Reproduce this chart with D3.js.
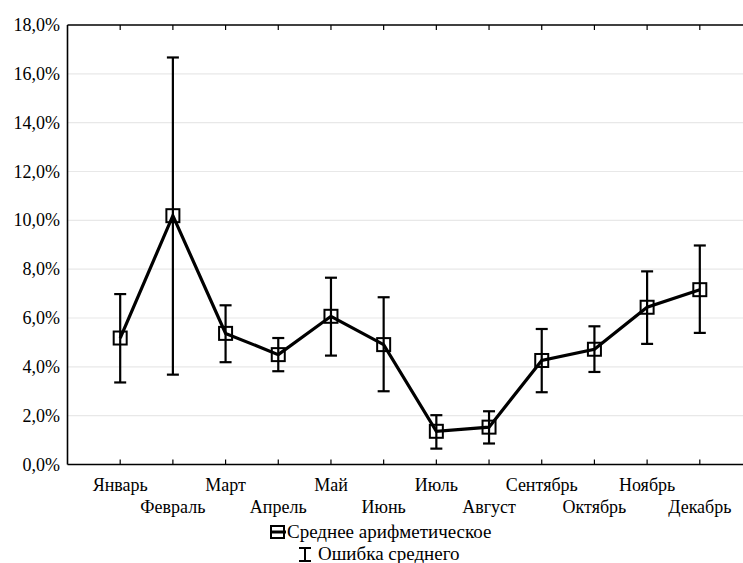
<!DOCTYPE html>
<html><head><meta charset="utf-8">
<script src="https://cdn.jsdelivr.net/npm/d3@7"></script>
<style>body{margin:0;background:#fff}svg{display:block}</style>
</head><body><svg id="c" width="743" height="563"></svg>
<script>
const months = ["Январь","Февраль","Март","Апрель","Май","Июнь","Июль","Август","Сентябрь","Октябрь","Ноябрь","Декабрь"];
const means = [5.18, 10.19, 5.37, 4.50, 6.07, 4.91, 1.36, 1.53, 4.26, 4.72, 6.44, 7.16];
const lower = [3.36, 3.68, 4.19, 3.82, 4.46, 3.00, 0.65, 0.86, 2.96, 3.79, 4.94, 5.39];
const upper = [6.98, 16.67, 6.52, 5.18, 7.65, 6.85, 2.02, 2.18, 5.55, 5.66, 7.91, 8.97];
const yTicks = [0,2,4,6,8,10,12,14,16,18];
const legendLabels = ["Среднее арифметическое","Ошибка среднего"];

const FONT = "'Liberation Serif', 'Times New Roman', 'DejaVu Serif', serif";
const svg = d3.select("#c").attr("font-family", FONT);
const L = 67.5, T = 25, B = 464.5, R = 752.5;
const x = d3.scalePoint().domain(["", ...months, " "]).range([L, R]);
const y = d3.scaleLinear().domain([0,18]).range([B, T]);

// gridlines
svg.append("g").selectAll("line").data(yTicks.filter(d=>d>0 && d<18)).join("line")
  .attr("x1", L).attr("x2", 743).attr("y1", d=>y(d)).attr("y2", d=>y(d))
  .attr("stroke", "#e8e8e8").attr("stroke-width", 1.2);

// y labels
svg.append("g").selectAll("text").data(yTicks).join("text")
  .attr("x", 60).attr("y", d=>y(d)+6).attr("text-anchor","end")
  .attr("font-family", FONT).attr("font-size", 18).attr("fill","#000")
  .text(d=>d3.format(".1f")(d).replace(".",",")+"%");

// frame: left, bottom, top
svg.append("line").attr("x1",L).attr("x2",L).attr("y1",T).attr("y2",B).attr("stroke","#000").attr("stroke-width",1.6);
svg.append("line").attr("x1",L).attr("x2",743).attr("y1",B).attr("y2",B).attr("stroke","#000").attr("stroke-width",1.6);
svg.append("line").attr("x1",L).attr("x2",743).attr("y1",T).attr("y2",T).attr("stroke","#000").attr("stroke-width",1.6);

// tick marks (inside)
const tk = svg.append("g");
tk.selectAll("line.b").data(months).join("line").attr("class","b")
  .attr("x1",d=>x(d)).attr("x2",d=>x(d)).attr("y1",B).attr("y2",B-5).attr("stroke","#000").attr("stroke-width",1.2);
tk.selectAll("line.t").data(months).join("line").attr("class","t")
  .attr("x1",d=>x(d)).attr("x2",d=>x(d)).attr("y1",T).attr("y2",T+5).attr("stroke","#000").attr("stroke-width",1.2);

// x labels, staggered
svg.append("g").selectAll("text").data(months).join("text")
  .attr("x", d=>x(d)).attr("y", (d,i)=> i%2===0 ? 491 : 513)
  .attr("text-anchor","middle").attr("font-family", FONT).attr("font-size", 18).attr("fill","#000").text(d=>d);

// error bars
const eb = svg.append("g").attr("stroke","#000").attr("stroke-width",2.2).attr("fill","none");
months.forEach((m,i)=>{
  const cx = x(m);
  eb.append("line").attr("x1",cx).attr("x2",cx).attr("y1",y(lower[i])).attr("y2",y(upper[i]));
  eb.append("line").attr("x1",cx-6).attr("x2",cx+6).attr("y1",y(lower[i])).attr("y2",y(lower[i]));
  eb.append("line").attr("x1",cx-6).attr("x2",cx+6).attr("y1",y(upper[i])).attr("y2",y(upper[i]));
});

// mean line
svg.append("path").datum(means)
  .attr("d", d3.line().x((d,i)=>x(months[i])).y(d=>y(d)))
  .attr("fill","none").attr("stroke","#000").attr("stroke-width",3.2).attr("stroke-linejoin","miter");

// markers
svg.append("g").selectAll("rect").data(means).join("rect")
  .attr("x",(d,i)=>x(months[i])-6.5).attr("y",d=>y(d)-6.5).attr("width",13).attr("height",13)
  .attr("fill","none").attr("stroke","#000").attr("stroke-width",2);

// legend
const lg = svg.append("g");
lg.append("rect").attr("x",271).attr("y",526).attr("width",13).attr("height",12)
  .attr("fill","none").attr("stroke","#000").attr("stroke-width",2);
lg.append("line").attr("x1",270).attr("x2",286).attr("y1",532).attr("y2",532).attr("stroke","#000").attr("stroke-width",3);
lg.append("text").attr("x",287).attr("y",538).attr("font-family", FONT).attr("font-size",19).attr("fill","#000").text(legendLabels[0]);
lg.append("line").attr("x1",305).attr("x2",305).attr("y1",548).attr("y2",561).attr("stroke","#000").attr("stroke-width",2);
lg.append("line").attr("x1",299).attr("x2",311).attr("y1",548).attr("y2",548).attr("stroke","#000").attr("stroke-width",2);
lg.append("line").attr("x1",299).attr("x2",311).attr("y1",561).attr("y2",561).attr("stroke","#000").attr("stroke-width",2);
lg.append("text").attr("x",318).attr("y",560).attr("font-family", FONT).attr("font-size",19).attr("fill","#000").text(legendLabels[1]);
</script></body></html>
